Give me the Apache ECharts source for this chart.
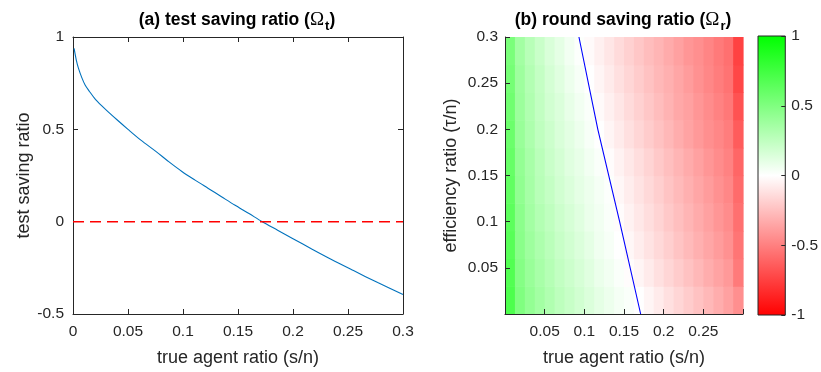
<!DOCTYPE html>
<html>
<head>
<meta charset="utf-8">
<script src="https://cdn.jsdelivr.net/npm/echarts@6/dist/echarts.min.js"></script>
<style>
html,body{margin:0;padding:0;background:#fff;}
#c{width:821px;height:372px;}
</style>
</head>
<body>
<div id="c"></div>
<script>
// ---- (a) test saving ratio curve ----
var sRatio = [0.001, 0.003, 0.005, 0.008, 0.011, 0.015, 0.020, 0.026, 0.032, 0.040, 0.050, 0.062, 0.075, 0.087, 0.099, 0.111, 0.123, 0.135, 0.147, 0.160, 0.172, 0.186, 0.200, 0.217, 0.235, 0.255, 0.277, 0.300];
var omegaT = [0.938, 0.875, 0.830, 0.780, 0.740, 0.705, 0.665, 0.628, 0.595, 0.552, 0.500, 0.440, 0.382, 0.325, 0.272, 0.225, 0.180, 0.135, 0.090, 0.044, 0.000, -0.046, -0.092, -0.148, -0.205, -0.265, -0.330, -0.395];
var zeroLineX = [0, 0.3];
var zeroLineY = [0, 0];

// ---- (b) round saving ratio field ----
var cellX = [0.00625,0.01875,0.03125,0.04375,0.05625,0.06875,0.08125,0.09375,0.10625,0.11875,0.13125,0.14375,
             0.15625,0.16875,0.18125,0.19375,0.20625,0.21875,0.23125,0.24375,0.25625,0.26875,0.28125,0.29375];
var cellY = [0.015,0.045,0.075,0.105,0.135,0.165,0.195,0.225,0.255,0.285];
var omegaR_y015 = [0.70,0.50,0.42,0.36,0.31,0.26,0.22,0.18,0.14,0.10,0.07,0.04,0.02,0.00,-0.04,-0.08,-0.12,-0.16,-0.20,-0.24,-0.28,-0.32,-0.37,-0.44];
var omegaR_y045 = [0.68,0.48,0.40,0.34,0.29,0.24,0.20,0.16,0.12,0.08,0.05,0.02,-0.01,-0.04,-0.08,-0.12,-0.16,-0.20,-0.24,-0.28,-0.32,-0.36,-0.40,-0.52];
var omegaR_y075 = [0.66,0.46,0.38,0.32,0.27,0.22,0.18,0.14,0.10,0.06,0.03,0.00,-0.03,-0.07,-0.11,-0.15,-0.19,-0.23,-0.27,-0.31,-0.35,-0.39,-0.43,-0.54];
var omegaR_y105 = [0.64,0.45,0.36,0.30,0.25,0.20,0.16,0.12,0.08,0.05,0.02,-0.01,-0.05,-0.09,-0.13,-0.17,-0.21,-0.25,-0.29,-0.33,-0.37,-0.41,-0.45,-0.56];
var omegaR_y135 = [0.62,0.43,0.35,0.28,0.23,0.18,0.14,0.10,0.07,0.04,0.01,-0.03,-0.07,-0.11,-0.15,-0.19,-0.23,-0.27,-0.31,-0.35,-0.39,-0.43,-0.47,-0.58];
var omegaR_y165 = [0.60,0.42,0.34,0.27,0.21,0.17,0.12,0.09,0.05,0.02,-0.01,-0.05,-0.09,-0.13,-0.17,-0.21,-0.25,-0.29,-0.33,-0.37,-0.41,-0.45,-0.49,-0.60];
var omegaR_y195 = [0.58,0.40,0.32,0.25,0.20,0.15,0.11,0.07,0.03,0.00,-0.04,-0.08,-0.12,-0.16,-0.20,-0.24,-0.28,-0.32,-0.36,-0.40,-0.44,-0.47,-0.51,-0.64];
var omegaR_y225 = [0.56,0.39,0.31,0.24,0.18,0.14,0.09,0.05,0.02,-0.02,-0.06,-0.10,-0.14,-0.18,-0.22,-0.26,-0.30,-0.34,-0.37,-0.41,-0.45,-0.49,-0.53,-0.68];
var omegaR_y255 = [0.54,0.38,0.30,0.23,0.17,0.12,0.07,0.03,0.00,-0.04,-0.08,-0.12,-0.16,-0.20,-0.24,-0.28,-0.31,-0.35,-0.39,-0.43,-0.47,-0.51,-0.55,-0.72];
var omegaR_y285 = [0.52,0.36,0.28,0.21,0.15,0.10,0.05,0.01,-0.02,-0.06,-0.10,-0.14,-0.18,-0.22,-0.26,-0.29,-0.33,-0.37,-0.41,-0.44,-0.48,-0.52,-0.56,-0.74];
var omegaRRows = [omegaR_y015, omegaR_y045, omegaR_y075, omegaR_y105, omegaR_y135, omegaR_y165, omegaR_y195, omegaR_y225, omegaR_y255, omegaR_y285];
// zero contour (blue line)
var zeroContourX = [0.0932, 0.117, 0.1445, 0.171];
var zeroContourY = [0.300, 0.200, 0.100, 0.000];

// colorbar range
var cbarMin = -1, cbarMax = 1;

// ---- build ----
var CW = 0.0125, CH = 0.03;
var curve = sRatio.map(function (x, i) { return [x, omegaT[i]]; });
var zeroLine = zeroLineX.map(function (x, i) { return [x, zeroLineY[i]]; });
var cells = [];
omegaRRows.forEach(function (row, j) {
  row.forEach(function (v, i) { cells.push([cellX[i], cellY[j], v]); });
});
var contour = zeroContourX.map(function (x, i) { return [x, zeroContourY[i]]; });

var FONT = 'Liberation Sans, Arial, Helvetica, sans-serif';
var TXT = '#262626';
var lbl = { fontFamily: FONT, fontSize: 15.5, color: TXT };
var nameStyle = { fontFamily: FONT, fontSize: 18, color: TXT };
var axLine = { show: true, onZero: false, lineStyle: { color: TXT, width: 1 } };
var tickIn = { show: true, inside: true, length: 5, lineStyle: { color: TXT } };

function hideAt(vals) {
  return function (v) {
    for (var k = 0; k < vals.length; k++) if (Math.abs(v - vals[k]) < 1e-9) return '';
    return String(+v.toFixed(4));
  };
}

var titleRich = {
  b: { fontFamily: FONT, fontSize: 17.5, fontWeight: 'bold', color: '#000' },
  o: { fontFamily: 'Liberation Serif, serif', fontSize: 19, color: '#000' },
  s: { fontFamily: FONT, fontSize: 13, fontWeight: 'bold', color: '#000', padding: [12, 0, 0, 1] }
};

var option = {
  animation: false,
  backgroundColor: '#fff',
  grid: [
    { left: 73, top: 37, width: 330, height: 277 },
    { left: 505, top: 37, width: 238, height: 278 },
    { left: 758, top: 36, width: 34, height: 279 }
  ],
  xAxis: [
    { gridIndex: 0, type: 'value', min: 0, max: 0.3, interval: 0.05, position: 'bottom',
      axisLine: axLine, axisTick: tickIn, splitLine: { show: false },
      axisLabel: Object.assign({ margin: 10, formatter: hideAt([]) }, lbl),
      name: 'true agent ratio (s/n)', nameLocation: 'middle', nameGap: 35, nameTextStyle: nameStyle },
    { gridIndex: 0, type: 'value', min: 0, max: 0.3, interval: 0.05, position: 'top',
      axisLine: axLine, axisTick: tickIn, splitLine: { show: false }, axisLabel: { show: false } },
    { gridIndex: 1, type: 'value', min: 0, max: 0.3, interval: 0.05, position: 'bottom', z: 10,
      axisLine: axLine, axisTick: tickIn, splitLine: { show: false },
      axisLabel: Object.assign({ margin: 10, formatter: hideAt([0, 0.3]) }, lbl),
      name: 'true agent ratio (s/n)', nameLocation: 'middle', nameGap: 35, nameTextStyle: nameStyle },
    { gridIndex: 2, type: 'value', min: 0, max: 1, show: false }
  ],
  yAxis: [
    { gridIndex: 0, type: 'value', min: -0.5, max: 1, interval: 0.5, position: 'left',
      axisLine: axLine, axisTick: tickIn, splitLine: { show: false },
      axisLabel: Object.assign({ margin: 9, formatter: hideAt([]) }, lbl),
      name: 'test saving ratio', nameLocation: 'middle', nameGap: 38, nameTextStyle: nameStyle },
    { gridIndex: 0, type: 'value', min: -0.5, max: 1, interval: 0.5, position: 'right',
      axisLine: axLine, axisTick: tickIn, splitLine: { show: false }, axisLabel: { show: false } },
    { gridIndex: 1, type: 'value', min: 0, max: 0.3, interval: 0.05, position: 'left', z: 10,
      axisLine: axLine, axisTick: tickIn, splitLine: { show: false },
      axisLabel: Object.assign({ margin: 7, formatter: hideAt([0]) }, lbl),
      name: 'efficiency ratio (τ/n)', nameLocation: 'middle', nameGap: 45, nameTextStyle: nameStyle },
    { gridIndex: 2, type: 'value', min: cbarMin, max: cbarMax, interval: 0.5, position: 'right', z: 10,
      axisLine: { show: false, onZero: false }, axisTick: { show: true, inside: true, length: 4, lineStyle: { color: TXT } },
      splitLine: { show: false },
      axisLabel: Object.assign({ margin: 6, formatter: hideAt([]) }, lbl) }
  ],
  visualMap: {
    show: false, type: 'continuous', min: -1, max: 1, dimension: 2, seriesIndex: 2,
    inRange: { color: ['#ff0000', '#ffffff', '#00ff00'] }
  },
  series: [
    { type: 'line', xAxisIndex: 0, yAxisIndex: 0, data: curve, smooth: 0.3,
      showSymbol: false, lineStyle: { color: '#0072BD', width: 1.1 } },
    { type: 'line', xAxisIndex: 0, yAxisIndex: 0, data: zeroLine, showSymbol: false,
      itemStyle: { color: '#ff0000' }, lineStyle: { color: '#ff0000', width: 1.5, type: [11, 6] } },
    { type: 'custom', xAxisIndex: 2, yAxisIndex: 2, data: cells, encode: { x: 0, y: 1 },
      renderItem: function (params, api) {
        var x = api.value(0), y = api.value(1);
        var p0 = api.coord([x - CW / 2, y + CH / 2]);
        var p1 = api.coord([x + CW / 2, y - CH / 2]);
        return { type: 'rect', shape: { x: p0[0], y: p0[1], width: p1[0] - p0[0] + 0.6, height: p1[1] - p0[1] + 0.6 },
                 style: { fill: api.visual('color') } };
      } },
    { type: 'line', xAxisIndex: 2, yAxisIndex: 2, data: contour, showSymbol: false, z: 5,
      lineStyle: { color: '#0000ff', width: 1.1 } },
    { type: 'custom', xAxisIndex: 3, yAxisIndex: 3, data: [[0.5, 0]],
      renderItem: function (params, api) {
        var p0 = api.coord([0, cbarMax]);
        var p1 = api.coord([1, cbarMin]);
        return { type: 'rect', shape: { x: p0[0], y: p0[1], width: p1[0] - p0[0], height: p1[1] - p0[1] },
                 style: { fill: new echarts.graphic.LinearGradient(0, 0, 0, 1, [
                   { offset: 0, color: '#00ff00' }, { offset: 0.5, color: '#ffffff' }, { offset: 1, color: '#ff0000' }]),
                   stroke: TXT, lineWidth: 1 } };
      } }
  ],
  graphic: [
    { type: 'text', x: 237, y: 20, style: { text: '{b|(a) test saving ratio (}{o|Ω}{s|t}{b|)}', rich: titleRich,
      align: 'center', verticalAlign: 'middle' } },
    { type: 'text', x: 623, y: 20, style: { text: '{b|(b) round saving ratio (}{o|Ω}{s|r}{b|)}', rich: titleRich,
      align: 'center', verticalAlign: 'middle' } }
  ]
};
var chart = echarts.init(document.getElementById('c'), null, { renderer: 'canvas' });
chart.setOption(option);
</script>
</body>
</html>
